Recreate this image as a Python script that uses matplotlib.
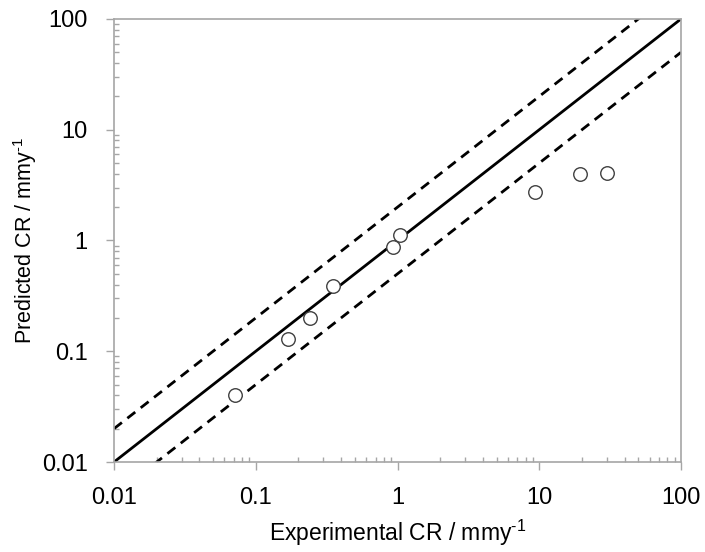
import numpy as np
import matplotlib
matplotlib.use("Agg")
import matplotlib.pyplot as plt
from matplotlib.ticker import LogLocator, FixedLocator, NullFormatter

plt.rcParams['font.family'] = ['Liberation Sans', 'DejaVu Sans']
plt.rcParams['mathtext.fontset'] = 'custom'
plt.rcParams['mathtext.rm'] = 'Liberation Sans'
plt.rcParams['mathtext.default'] = 'regular'

# experimental vs predicted corrosion rate (mmy-1)
exp_cr = [0.071, 0.17, 0.24, 0.35, 0.93, 1.04, 9.3, 19.5, 30.0]
pred_cr = [0.04, 0.13, 0.2, 0.39, 0.87, 1.12, 2.75, 4.0, 4.1]

major_ticks = [0.01, 0.1, 1, 10, 100]
tick_labels = ['0.01', '0.1', '1', '10', '100']

grey = '#a6a6a6'

fig = plt.figure(figsize=(7.05, 5.52), dpi=100)
ax = fig.add_axes([0.1617, 0.163, 0.8043, 0.8027])

xl = np.array([0.01, 100])
# 1:1 line and factor-of-two bounds
ax.plot(xl, xl, color='black', lw=2.0, zorder=2)
ax.plot(xl, 2 * xl, color='black', lw=2.0, ls=(0, (3.6, 2.5)), zorder=2)
ax.plot(xl, 0.5 * xl, color='black', lw=2.0, ls=(0, (3.6, 2.5)), zorder=2)

ax.scatter(exp_cr, pred_cr, s=95, facecolor='white', edgecolor='#404040',
           linewidth=1.0, zorder=3)

ax.set_xscale('log')
ax.set_yscale('log')
ax.set_xlim(0.01, 100)
ax.set_ylim(0.01, 100)

for axis in (ax.xaxis, ax.yaxis):
    axis.set_major_locator(FixedLocator(major_ticks))
    axis.set_minor_locator(LogLocator(base=10, subs=np.arange(2, 10), numticks=20))
    axis.set_minor_formatter(NullFormatter())
ax.set_xticklabels(tick_labels)
ax.set_yticklabels(tick_labels)

ax.tick_params(which='major', direction='out', length=6, width=1, color=grey,
               labelsize=17)
ax.tick_params(axis='x', which='major', pad=12)
ax.tick_params(axis='y', which='major', pad=13)
ax.tick_params(which='minor', direction='in', length=3.6, width=1, color=grey)
for sp in ax.spines.values():
    sp.set_color(grey)
    sp.set_linewidth(1.2)

ax.set_xlabel(r'Experimental CR / mmy$^{\text{-}1}$', fontsize=16.5, labelpad=6)
ax.set_ylabel(r'Predicted CR / mmy$^{\text{-}1}$', fontsize=15.5, labelpad=2)

fig.savefig('out.png', dpi=100)
